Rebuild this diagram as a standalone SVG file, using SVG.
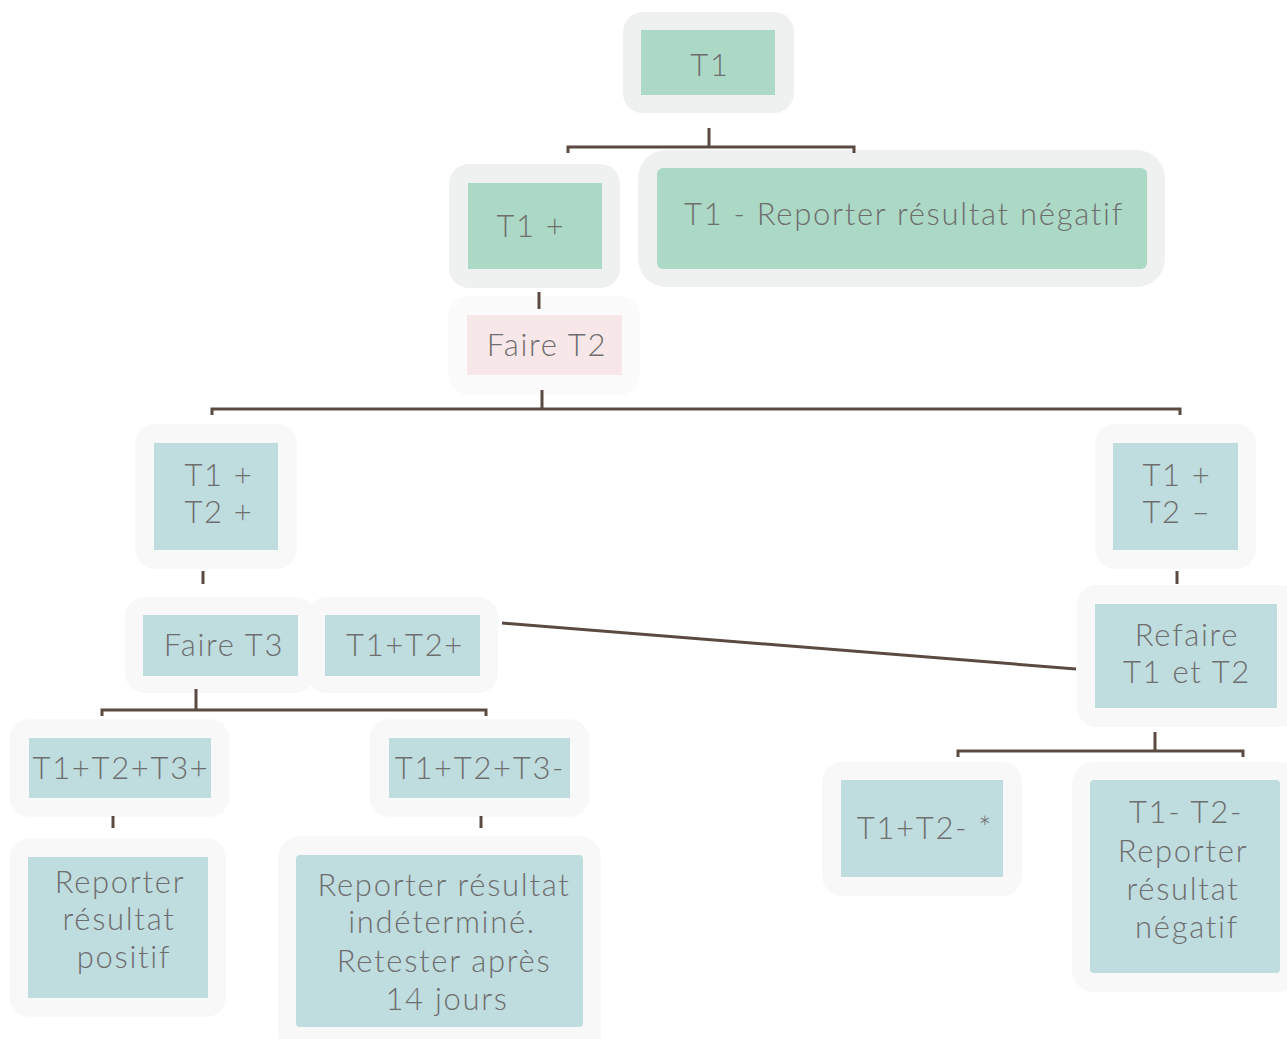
<svg xmlns="http://www.w3.org/2000/svg" width="1287" height="1039" viewBox="0 0 1287 1039">
<style>
.og{fill:#eff1f0}
.ob{fill:#f8f8f8}
.op{fill:#fbfbfb}
.ig{fill:#acd9c5}
.ib{fill:#bfdcdf}
.ip{fill:#f8e7e8}
text{font-family:Lato,"Open Sans","Liberation Sans",sans-serif;font-weight:300;font-size:31px;letter-spacing:1.7px;fill:#6e6e6e;text-anchor:middle}
.c{fill:none;stroke:#5a4a42;stroke-width:3}
</style>
<rect width="1287" height="1039" fill="#ffffff"/>
<g id="n-t1"><rect class="og" x="623" y="12" width="171" height="101" rx="20"/><rect class="ig" x="641" y="30" width="134" height="65"/><text x="710" y="76">T1</text></g>
<g id="n-t1plus"><rect class="og" x="449" y="164" width="171" height="124" rx="20"/><rect class="ig" x="468" y="183" width="134" height="86"/><text x="531" y="237">T1 +</text></g>
<g id="n-t1neg"><rect class="og" x="638" y="150" width="527" height="137" rx="28"/><rect class="ig" x="657" y="168" width="490" height="101" rx="6"/><text x="904" y="225">T1 - Reporter résultat négatif</text></g>
<g id="n-fairet2"><rect class="op" x="448" y="296" width="192" height="99" rx="20"/><rect class="ip" x="467" y="315" width="155" height="60"/><text x="547" y="356">Faire T2</text></g>
<g id="n-t1pt2p"><rect class="ob" x="135" y="424" width="162" height="145" rx="20"/><rect class="ib" x="154" y="443" width="124" height="107"/><text x="219" y="486">T1 +</text><text x="219" y="523">T2 +</text></g>
<g id="n-t1pt2m"><rect class="ob" x="1095" y="424" width="161" height="145" rx="20"/><rect class="ib" x="1113" y="443" width="125" height="107"/><text x="1177" y="486">T1 +</text><text x="1177" y="523">T2 –</text></g>
<g id="n-fairet3"><rect class="ob" x="125" y="597" width="190" height="96" rx="20"/><rect class="ib" x="143" y="615" width="155" height="61"/><text x="224" y="656">Faire T3</text></g>
<g id="n-t1t2p"><rect class="ob" x="307" y="597" width="191" height="96" rx="20"/><rect class="ib" x="325" y="615" width="155" height="61"/><text x="405" y="656">T1+T2+</text></g>
<g id="n-refaire"><rect class="ob" x="1077" y="585" width="225" height="142" rx="20"/><rect class="ib" x="1095" y="604" width="182" height="104"/><text x="1187" y="646">Refaire</text><text x="1187" y="683">T1 et T2</text></g>
<g id="n-t3p"><rect class="ob" x="10" y="719" width="219" height="98" rx="20"/><rect class="ib" x="29" y="738" width="182" height="60"/><text x="121" y="779">T1+T2+T3+</text></g>
<g id="n-t3m"><rect class="ob" x="370" y="719" width="219" height="98" rx="20"/><rect class="ib" x="389" y="738" width="181" height="60"/><text x="480" y="779">T1+T2+T3-</text></g>
<g id="n-positif"><rect class="ob" x="10" y="838" width="216" height="179" rx="20"/><rect class="ib" x="28" y="857" width="180" height="141"/><text x="120" y="893">Reporter</text><text x="119" y="930">résultat</text><text x="124" y="968">positif</text></g>
<g id="n-indet"><rect class="ob" x="278" y="836" width="323" height="220" rx="22"/><rect class="ib" x="296" y="855" width="287" height="172" rx="4"/><text x="444" y="896">Reporter résultat</text><text x="442" y="933">indéterminé.</text><text x="444" y="972">Retester après</text><text x="447" y="1010">14 jours</text></g>
<g id="n-t1t2mstar"><rect class="ob" x="822" y="762" width="200" height="134" rx="20"/><rect class="ib" x="841" y="780" width="162" height="97"/><text x="925" y="839">T1+T2- *</text></g>
<g id="n-negatif"><rect class="ob" x="1072" y="762" width="230" height="230" rx="22"/><rect class="ib" x="1090" y="780" width="190" height="193" rx="4"/><text x="1186" y="823">T1- T2-</text><text x="1183" y="862">Reporter</text><text x="1183" y="900">résultat</text><text x="1187" y="938">négatif</text></g>
<g id="connectors">
<path class="c" d="M709 128V147M568 153V147H854V153"/>
<path class="c" d="M539 292V309"/>
<path class="c" d="M542 390V409M212 415V409H1180V415"/>
<path class="c" d="M203 571V584"/>
<path class="c" d="M1177 571V584"/>
<path class="c" d="M502 623L1076 669" stroke-width="2.5"/>
<path class="c" d="M196 689V710M102 716V710H486V716"/>
<path class="c" d="M113 816V828"/>
<path class="c" d="M481 816V828"/>
<path class="c" d="M1155 732V751M958 757V751H1243V757"/>
</g>
</svg>
